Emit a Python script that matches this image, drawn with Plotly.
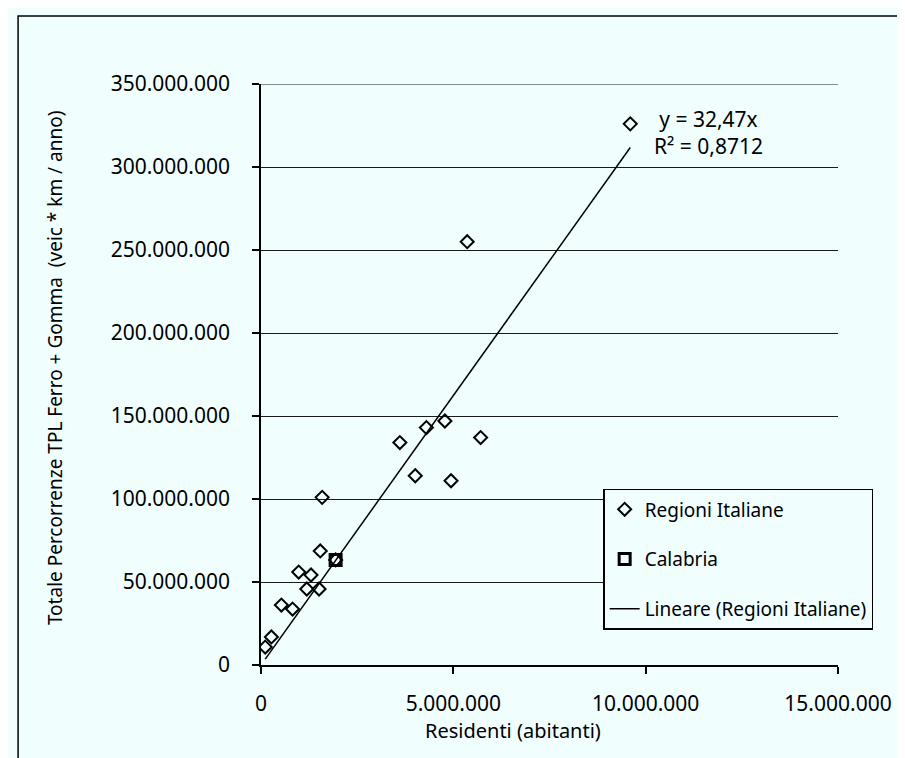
import plotly.graph_objects as go

# Data
regioni_residenti = [9600000, 5360000, 5710000, 4780000, 4300000, 3610000, 4010000, 4940000,
                     1590000, 1540000, 1940000, 980000, 1300000, 1190000, 1510000,
                     530000, 820000, 270000, 110000]
regioni_percorrenze = [326000000, 255000000, 137000000, 147000000, 143000000, 134000000, 114000000, 111000000,
                       101000000, 68700000, 63300000, 56000000, 54200000, 45800000, 45800000,
                       36100000, 33700000, 16900000, 10800000]
calabria_residenti = [1940000]
calabria_percorrenze = [63300000]
trend_slope = 32.47
trend_x = [min(regioni_residenti), max(regioni_residenti)]
trend_y = [trend_slope * v for v in trend_x]

x_ticks = [0, 5000000, 10000000, 15000000]
y_ticks = [0, 50000000, 100000000, 150000000, 200000000, 250000000, 300000000, 350000000]
x_range = [0, 15000000]
y_range = [0, 350000000]

BG = "#F0FEFE"
FONT = "Noto Sans"

fig = go.Figure()
fig.add_trace(go.Scatter(
    x=regioni_residenti, y=regioni_percorrenze, mode="markers",
    name="Regioni Italiane", legendgroup="a",
    marker=dict(symbol="diamond-open", size=10, color="black", line=dict(width=2, color="black")),
))
fig.add_trace(go.Scatter(
    x=calabria_residenti, y=calabria_percorrenze, mode="markers",
    name="Calabria", legendgroup="b",
    marker=dict(symbol="square-open", size=11, color="black", line=dict(width=3, color="black")),
))
fig.add_trace(go.Scatter(
    x=trend_x, y=trend_y, mode="lines",
    name="Lineare (Regioni Italiane)", legendgroup="c",
    line=dict(color="black", width=1.5),
))

fig.update_layout(
    width=905, height=758,
    margin=dict(l=253, r=75, t=76, b=101),
    paper_bgcolor=BG, plot_bgcolor=BG,
    font=dict(family=FONT, size=20, color="black"),
    separators=",.",
    showlegend=True,
    legend=dict(
        x=0.593, y=0.303, xanchor="left", yanchor="top",
        bgcolor=BG, bordercolor="black", borderwidth=1.5,
        font=dict(family=FONT, size=19, color="black"),
        traceorder="grouped", tracegroupgap=22,
        itemwidth=30,
    ),
    xaxis=dict(
        range=x_range, tickvals=x_ticks, tickformat=",d",
        showgrid=False, zeroline=False,
        showline=True, linecolor="black", linewidth=1.5,
        ticks="outside", ticklen=7, tickcolor="black", tickwidth=1.5,
        ticklabelstandoff=12,
        tickfont=dict(size=21),
    ),
    yaxis=dict(
        range=y_range, tickvals=y_ticks, tickformat=",d",
        showgrid=True, gridcolor="#1a1a1a", gridwidth=1,
        zeroline=False,
        showline=True, linecolor="black", linewidth=1.5,
        ticks="outside", ticklen=7, tickcolor="black", tickwidth=1.5,
        ticklabelstandoff=18,
        tickfont=dict(size=21),
    ),
    annotations=[
        dict(text="y = 32,47x<br>R² = 0,8712", xref="paper", yref="paper",
             x=0.775, y=0.916, xanchor="center", yanchor="middle",
             showarrow=False, align="center", font=dict(size=21)),
        dict(text="Residenti (abitanti)", xref="paper", yref="paper",
             x=0.437, y=-0.112, xanchor="center", yanchor="middle",
             showarrow=False, font=dict(size=20)),
        dict(text="Totale Percorrenze TPL Ferro + Gomma  (veic * km / anno)", xref="paper", yref="paper",
             x=-0.357, y=0.511, xanchor="center", yanchor="middle", textangle=-90,
             showarrow=False, font=dict(size=19)),
    ],
    shapes=[
        dict(type="line", xref="x", yref="y",
             x0=x_range[0], x1=x_range[1], y0=y_range[1], y1=y_range[1],
             line=dict(color="#1a1a1a", width=1)),
        dict(type="rect", xref="paper", yref="paper",
             x0=-0.421, x1=1.2, y0=-0.170, y1=1.117,
             line=dict(color="black", width=1.5), fillcolor="rgba(0,0,0,0)", layer="below"),
    ],
)

fig.write_html("out.html")
